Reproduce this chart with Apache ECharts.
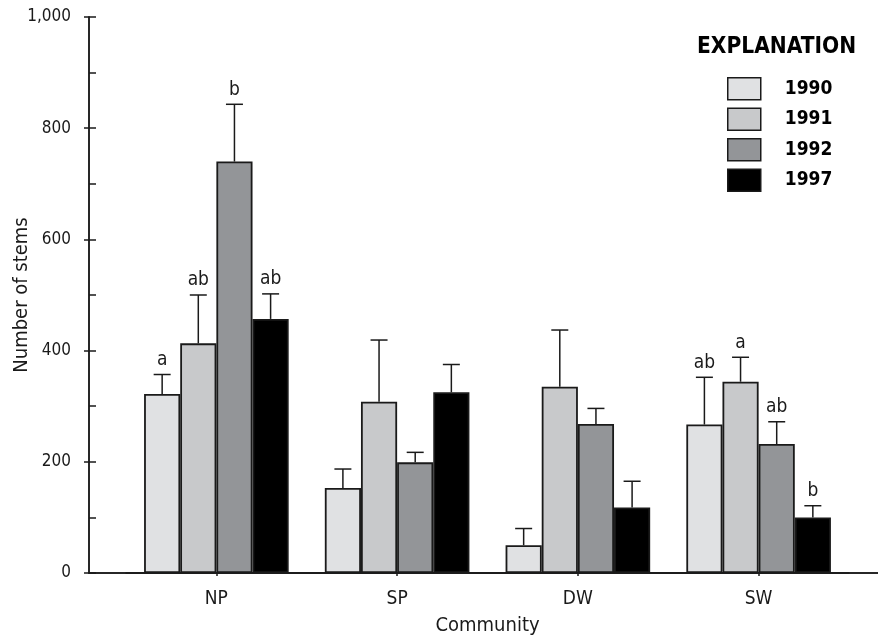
<!DOCTYPE html>
<html>
<head>
<meta charset="utf-8">
<script src="https://cdn.jsdelivr.net/npm/echarts@6/dist/echarts.min.js"></script>
<style>
  html, body { margin: 0; padding: 0; background: #fff; }
  #chart { width: 878px; height: 640px; }
</style>
</head>
<body>
<div id="chart"></div>
<script>
const communities = ['NP', 'SP', 'DW', 'SW']
const years = ['1990', '1991', '1992', '1997']
const yTicks = [0, 200, 400, 600, 800, 1000]

// mean number of stems per community, one array per year
const stems1990 = [322, 153, 50, 267]
const stems1991 = [413, 308, 335, 344]
const stems1992 = [740, 199, 268, 232]
const stems1997 = [457, 325, 118, 100]

// upper error bar length
const err1990 = [35, 34, 30, 85]
const err1991 = [87, 111, 102, 44]
const err1992 = [103, 18, 28, 40]
const err1997 = [45, 50, 47, 21]

// significance letters
const letters1990 = ['a', '', '', 'ab']
const letters1991 = ['ab', '', '', 'a']
const letters1992 = ['b', '', '', 'ab']
const letters1997 = ['ab', '', '', 'b']

const stems = [stems1990, stems1991, stems1992, stems1997]
const errs = [err1990, err1991, err1992, err1997]
const letters = [letters1990, letters1991, letters1992, letters1997]
const colors = ['#e0e1e3', '#c8c9cb', '#939598', '#000000']

const FONT = '"Liberation Sans Narrow", "DejaVu Sans Condensed", "Arial Narrow", sans-serif'
const INK = '#1a1a1a'

const chart = echarts.init(document.getElementById('chart'))

const barSeries = years.map((y, k) => ({
  name: y,
  type: 'bar',
  xAxisIndex: 2,
  yAxisIndex: 2,
  barWidth: '20%',
  barGap: '0%',
  data: stems[k],
  itemStyle: { color: colors[k], borderColor: INK, borderWidth: 1.8 },
  emphasis: { disabled: true },
  z: 2
}))

const errSeries = years.map((y, k) => ({
  name: 'err' + y,
  type: 'custom',
  xAxisIndex: 2,
  yAxisIndex: 2,
  z: 3,
  silent: true,
  data: stems[k].map((v, i) => [i, v, v + errs[k][i]]),
  renderItem: (params, api) => {
    const i = api.value(0)
    const band = api.size([1, 0])[0]
    const base = api.coord([i, api.value(1)])
    const top = api.coord([i, api.value(2)])
    const cx = base[0] + (k - 1.5) * band * 0.2
    const children = [
      { type: 'line', shape: { x1: cx, y1: base[1], x2: cx, y2: top[1] },
        style: { stroke: INK, lineWidth: 1.5 } },
      { type: 'line', shape: { x1: cx - 8.5, y1: top[1], x2: cx + 8.5, y2: top[1] },
        style: { stroke: INK, lineWidth: 1.5 } }
    ]
    const txt = letters[k][params.dataIndex]
    if (txt) {
      children.push({
        type: 'text',
        style: {
          x: cx, y: top[1] - 5, text: txt,
          textAlign: 'center', textVerticalAlign: 'bottom',
          font: '19px ' + FONT, fill: INK
        }
      })
    }
    return { type: 'group', children }
  }
}))

const option = {
  backgroundColor: '#fff',
  animation: false,
  textStyle: { fontFamily: FONT, color: INK },
  title: {
    text: 'EXPLANATION',
    left: 697,
    top: 36,
    padding: 0,
    textStyle: { fontFamily: FONT, fontSize: 22.5, fontWeight: 'bold', color: '#000' }
  },
  legend: {
    data: years,
    orient: 'vertical',
    left: 727,
    top: 77,
    padding: 0,
    itemWidth: 33,
    itemHeight: 22,
    itemGap: 7,
    icon: 'rect',
    itemStyle: { borderColor: INK, borderWidth: 1.5 },
    selectedMode: false,
    textStyle: {
      fontFamily: FONT, fontSize: 19, fontWeight: 'bold', color: '#000',
      lineHeight: 22, padding: [0, 0, 0, 19]
    }
  },
  grid: [
    { left: 89, right: -3, top: 17, bottom: 67, outerBoundsMode: 'none' },
    { left: 126, right: 29, top: 17, bottom: 67, outerBoundsMode: 'none' }
  ],
  xAxis: [
    { gridIndex: 0, type: 'value', min: 0, max: 1, position: 'bottom',
      axisLine: { show: true, lineStyle: { color: INK, width: 1.5 } },
      axisTick: { show: false }, axisLabel: { show: false }, splitLine: { show: false } },
    { gridIndex: 0, type: 'value', min: 0, max: 1, position: 'top',
      axisLine: { show: true, lineStyle: { color: INK, width: 1.5 } },
      axisTick: { show: false }, axisLabel: { show: false }, splitLine: { show: false } },
    { gridIndex: 1, type: 'category', data: communities, position: 'bottom',
      axisLine: { show: true, lineStyle: { color: INK, width: 1.5 } },
      axisTick: { show: true, alignWithLabel: true, length: 3, lineStyle: { color: INK, width: 1.5 } },
      axisLabel: { fontFamily: FONT, fontSize: 19, color: INK, margin: 17 },
      name: 'Community',
      nameLocation: 'middle',
      nameGap: 43,
      nameMoveOverlap: false,
      nameTextStyle: { fontFamily: FONT, fontSize: 20, color: INK } }
  ],
  yAxis: [
    { gridIndex: 0, type: 'value', min: yTicks[0], max: yTicks[yTicks.length - 1], interval: 200,
      axisLine: { show: true, lineStyle: { color: INK, width: 1.5 } },
      axisTick: { show: true, inside: true, length: 7, lineStyle: { color: INK, width: 1.5 } },
      minorTick: { show: true, splitNumber: 2, length: 7, lineStyle: { color: INK, width: 1.5 } },
      splitLine: { show: false },
      axisLabel: { fontFamily: FONT, fontSize: 17, color: INK, margin: 18,
        formatter: v => v.toLocaleString('en-US') },
      name: 'Number of stems',
      nameLocation: 'middle',
      nameGap: 57,
      nameMoveOverlap: false,
      nameTextStyle: { fontFamily: FONT, fontSize: 20, color: INK } },
    { gridIndex: 0, type: 'value', min: yTicks[0], max: yTicks[yTicks.length - 1], interval: 200,
      position: 'right',
      axisLine: { show: true, lineStyle: { color: INK, width: 1.5 } },
      axisTick: { show: true, inside: true, length: 5, lineStyle: { color: INK, width: 1.5 } },
      axisLabel: { show: false }, splitLine: { show: false } },
    { gridIndex: 1, type: 'value', min: yTicks[0], max: yTicks[yTicks.length - 1], show: false }
  ],
  series: [...barSeries, ...errSeries]
}

chart.setOption(option)
</script>
</body>
</html>
